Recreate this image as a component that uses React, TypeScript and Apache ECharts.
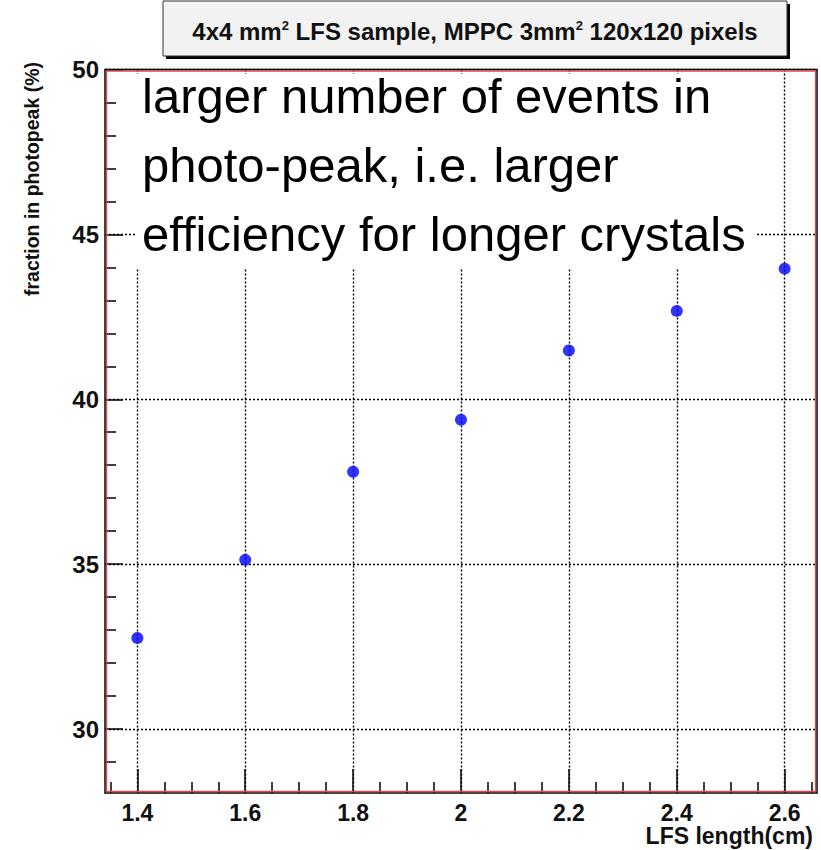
import React, { useEffect, useRef } from "react";
import * as echarts from "echarts";

const xValues = [1.4, 1.6, 1.8, 2.0, 2.2, 2.4, 2.6];
const yValues = [32.76, 35.13, 37.8, 39.38, 41.48, 42.68, 43.96];

const xMajorTicks = [1.4, 1.6, 1.8, 2.0, 2.2, 2.4, 2.6];
const xTickLabels = ["1.4", "1.6", "1.8", "2", "2.2", "2.4", "2.6"];
const xMinorTicks = [
  1.35, 1.45, 1.5, 1.55, 1.65, 1.7, 1.75, 1.85, 1.9, 1.95, 2.05, 2.1, 2.15,
  2.25, 2.3, 2.35, 2.45, 2.5, 2.55, 2.65,
];
const yMajorTicks = [30, 35, 40, 45, 50];
const yTickLabels = ["30", "35", "40", "45", "50"];
const yMinorTicks = [
  29, 31, 32, 33, 34, 36, 37, 38, 39, 41, 42, 43, 44, 46, 47, 48, 49,
];

const titleText = "4x4 mm{s|2} LFS sample, MPPC 3mm{s|2} 120x120 pixels";
const noteLines = [
  "larger number of events in",
  "photo-peak, i.e. larger",
  "efficiency for longer crystals",
];
const xTitle = "LFS length(cm)";
const yTitle = "fraction in photopeak (%)";

const FONT = "'Liberation Sans', Arial, Helvetica, sans-serif";

const G = { left: 105, right: 4, top: 69.5, bottom: 57 };
const W = 821;
const H = 850;

export default function App() {
  const ref = useRef<HTMLDivElement>(null);
  useEffect(() => {
    if (!ref.current) return;
    const chart = echarts.init(ref.current, null, { renderer: "svg" });
    const fmt = (ticks: number[], labels: string[]) => (v: number) => {
      const i = ticks.findIndex((t) => Math.abs(t - v) < 1e-6);
      return i >= 0 ? labels[i] : "";
    };
    const gw = W - G.left - G.right;
    const gh = H - G.top - G.bottom;
    const option: any = {
      animation: false,
      backgroundColor: "#ffffff",
      grid: {
        left: G.left,
        right: G.right,
        top: G.top,
        bottom: G.bottom,
        show: true,
        borderColor: "#000",
        borderWidth: 1.5,
        backgroundColor: "transparent",
      },
      xAxis: [
        {
          type: "value",
          min: 1.34,
          max: 2.66,
          position: "bottom",
          axisLine: { show: false },
          axisTick: {
            show: true,
            inside: true,
            length: 24,
            customValues: xMajorTicks,
            lineStyle: { color: "#000", width: 1.5 },
          },
          axisLabel: {
            customValues: xMajorTicks,
            formatter: fmt(xMajorTicks, xTickLabels),
            fontFamily: FONT,
            fontWeight: "bold",
            fontSize: 23,
            lineHeight: 23,
            color: "#111",
            margin: 8,
          },
          splitLine: {
            show: true,
            lineStyle: { color: "#000", width: 1.4, type: [2, 2] },
          },
        },
        {
          type: "value",
          min: 1.34,
          max: 2.66,
          position: "bottom",
          axisLine: { show: false },
          axisTick: {
            show: true,
            inside: true,
            length: 11,
            customValues: xMinorTicks,
            lineStyle: { color: "#000", width: 1.5 },
          },
          axisLabel: { show: false },
          splitLine: { show: false },
        },
      ],
      yAxis: [
        {
          type: "value",
          min: 28.06,
          max: 50,
          position: "left",
          axisLine: { show: false },
          axisTick: {
            show: true,
            inside: true,
            length: 18,
            customValues: yMajorTicks,
            lineStyle: { color: "#000", width: 1.5 },
          },
          axisLabel: {
            customValues: yMajorTicks,
            formatter: fmt(yMajorTicks, yTickLabels),
            fontFamily: FONT,
            fontWeight: "bold",
            fontSize: 24,
            color: "#111",
            margin: 6,
          },
          splitLine: {
            show: true,
            lineStyle: { color: "#000", width: 1.4, type: [2, 2] },
          },
        },
        {
          type: "value",
          min: 28.06,
          max: 50,
          position: "left",
          axisLine: { show: false },
          axisTick: {
            show: true,
            inside: true,
            length: 11,
            customValues: yMinorTicks,
            lineStyle: { color: "#000", width: 1.5 },
          },
          axisLabel: { show: false },
          splitLine: { show: false },
        },
      ],
      series: [
        {
          type: "scatter",
          xAxisIndex: 0,
          yAxisIndex: 0,
          symbol: "circle",
          symbolSize: 12,
          itemStyle: { color: "#0000ff" },
          data: xValues.map((x, i) => [x, yValues[i]]),
          z: 5,
        },
      ],
      graphic: [
        {
          type: "rect",
          z: 60,
          silent: true,
          shape: {
            x: G.left + 1.5,
            y: G.top + 1.5,
            width: gw - 3,
            height: gh - 3,
          },
          style: { fill: "none", stroke: "#e04848", lineWidth: 1.3 },
        },
        {
          type: "rect",
          z: 50,
          silent: true,
          shape: { x: 135, y: 74, width: 621, height: 195 },
          style: { fill: "#ffffff" },
        },
        ...noteLines.map((t, i) => ({
          type: "text",
          z: 51,
          silent: true,
          x: 142,
          y: 96 + i * 69,
          style: {
            text: t,
            font: `49px ${FONT}`,
            fill: "#000",
            align: "left",
            verticalAlign: "middle",
          },
        })),
        {
          type: "rect",
          z: 50,
          silent: true,
          shape: { x: 166, y: 4, width: 624, height: 55 },
          style: { fill: "#000" },
        },
        {
          type: "rect",
          z: 51,
          silent: true,
          shape: { x: 163, y: 1, width: 624, height: 55 },
          style: { fill: "#f2f2f2", stroke: "#333", lineWidth: 1 },
        },
        {
          type: "text",
          z: 52,
          silent: true,
          x: 475,
          y: 31,
          style: {
            text: titleText,
            font: `bold 24px ${FONT}`,
            fill: "#111",
            align: "center",
            verticalAlign: "middle",
            rich: {
              s: {
                fontFamily: FONT,
                fontWeight: "bold",
                fontSize: 13,
                verticalAlign: "top",
                padding: [0, 0, 8, 0],
                fill: "#111",
              },
            },
          },
        },
        {
          type: "text",
          z: 52,
          silent: true,
          x: 813,
          y: 836,
          style: {
            text: xTitle,
            font: `bold 23px ${FONT}`,
            fill: "#111",
            align: "right",
            verticalAlign: "middle",
          },
        },
        {
          type: "text",
          z: 52,
          silent: true,
          x: 32,
          y: 62,
          rotation: Math.PI / 2,
          style: {
            text: yTitle,
            font: `bold 19.5px ${FONT}`,
            fill: "#111",
            align: "right",
            verticalAlign: "middle",
          },
        },
      ],
    };
    chart.setOption(option);
    return () => chart.dispose();
  }, []);
  return (
    <div
      ref={ref}
      style={{ position: "absolute", left: 0, top: 0, width: W, height: H }}
    />
  );
}
